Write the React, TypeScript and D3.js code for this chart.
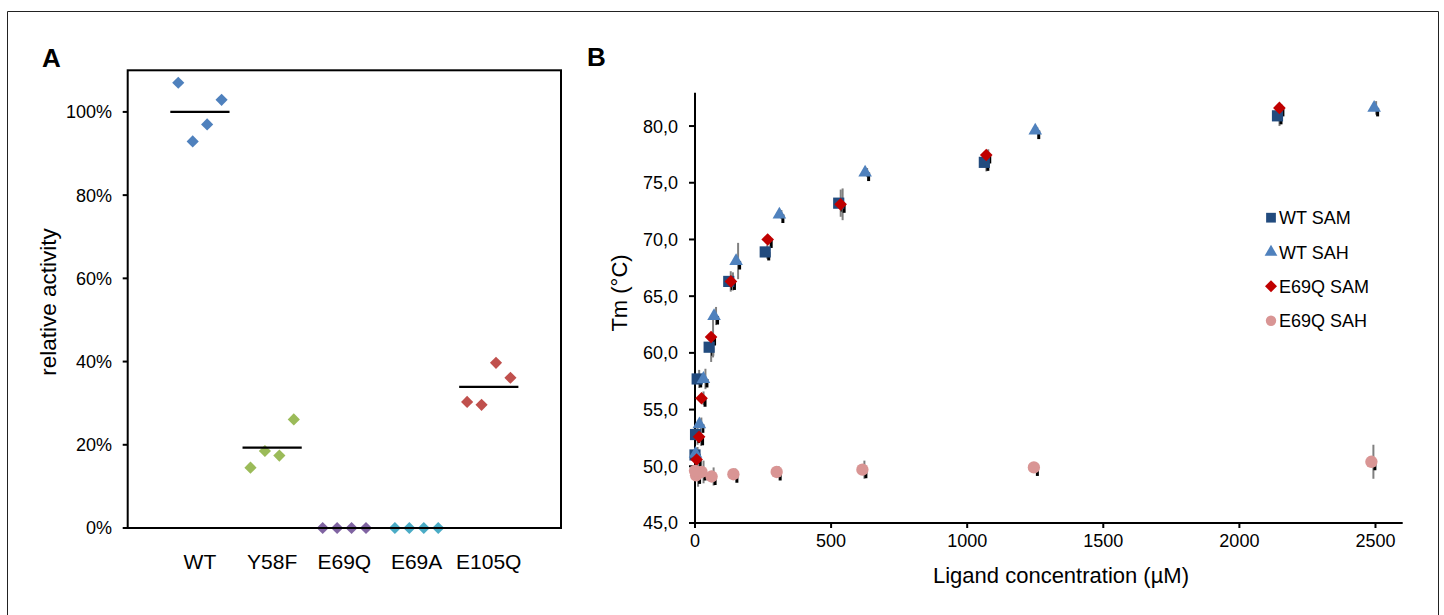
import React from "react";
import * as d3 from "d3";

// ---------- Panel A data ----------
const categories = ["WT", "Y58F", "E69Q", "E69A", "E105Q"];
const colorsA = ["#4f81bd", "#9bbb59", "#8064a2", "#4bacc6", "#c0504d"];
const replicateOffsets = [-0.3, -0.1, 0.1, 0.3];
const activityWT = [1.07, 0.929, 0.97, 1.029];
const activityY58F = [0.145, 0.185, 0.174, 0.261];
const activityE69Q = [0, 0, 0, 0];
const activityE69A = [0, 0, 0, 0];
const activityE105Q = [0.303, 0.296, 0.397, 0.361];
const activityMeans = [1.0, 0.193, 0, 0, 0.339];
const yTicksA = [0, 0.2, 0.4, 0.6, 0.8, 1.0];

// ---------- Panel B data ----------
const wtSamConc = [2140, 1063, 528, 258, 124, 52, 8, 2, 0];
const wtSamTm = [80.9, 76.8, 73.2, 68.9, 66.3, 60.5, 57.7, 52.8, 51.0];
const wtSamSd = [0.9, 0.8, 1.2, 0.6, 0.9, 1.3, 0.8, 0.9, 0.6];

const wtSahConc = [2495, 1250, 625, 310, 151, 70, 31, 16, 2];
const wtSahTm = [81.6, 79.6, 75.9, 72.2, 68.1, 63.25, 57.7, 53.7, 51.1];
const wtSahSd = [0.6, 0.3, 0.4, 0.4, 1.6, 0.8, 0.9, 0.6, 0.6];

const e69qSamConc = [2147, 1070, 535, 267, 132, 59, 24, 15, 6];
const e69qSamTm = [81.6, 77.45, 73.1, 70.0, 66.3, 61.4, 56.0, 52.6, 50.6];
const e69qSamSd = [0.3, 0.5, 1.4, 0.3, 0.8, 1.8, 0.6, 0.8, 0.5];

const e69qSahConc = [2485, 1245, 615, 300, 141, 61, 24, 4, 0];
const e69qSahTm = [50.4, 49.9, 49.7, 49.5, 49.3, 49.1, 49.5, 49.2, 49.6];
const e69qSahSd = [1.5, 0.3, 0.8, 0.5, 0.5, 0.8, 1.0, 1.0, 0.8];

const legendLabels = ["WT SAM", "WT SAH", "E69Q SAM", "E69Q SAH"];
const colorsB = ["#224b7e", "#4f81bd", "#c00000", "#d99594"];
const xTicksB = [0, 500, 1000, 1500, 2000, 2500];
const yTicksB = [45, 50, 55, 60, 65, 70, 75, 80];

const FONT = "'Liberation Sans', Arial, Helvetica, sans-serif";

export default function App() {
  // Panel A scales
  const xA = d3.scaleLinear().domain([0, 6]).range([127.7, 561]);
  const yA = d3.scaleLinear().domain([0, 1.1]).range([528, 70.3]);
  const seriesA = [activityWT, activityY58F, activityE69Q, activityE69A, activityE105Q];
  const diamondA = d3.symbol().type(d3.symbolSquare).size(74)() as string;

  // Panel B scales
  const xB = d3.scaleLinear().domain([0, 2600]).range([695, 1402.7]);
  const yB = d3.scaleLinear().domain([45, 82.94]).range([523, 92.7]);
  const fmtB = (v: number) => d3.format(".1f")(v).replace(".", ",");

  const seriesB = [
    { conc: wtSamConc, tm: wtSamTm, sd: wtSamSd, sym: d3.symbolSquare, size: 125, rot: 0 },
    { conc: wtSahConc, tm: wtSahTm, sd: wtSahSd, sym: d3.symbolTriangle, size: 80, rot: 0 },
    { conc: e69qSamConc, tm: e69qSamTm, sd: e69qSamSd, sym: d3.symbolSquare, size: 80, rot: 45 },
    { conc: e69qSahConc, tm: e69qSahTm, sd: e69qSahSd, sym: d3.symbolCircle, size: 120, rot: 0 },
  ];
  const legendSyms = [
    { sym: d3.symbolSquare, size: 95, rot: 0 },
    { sym: d3.symbolTriangle, size: 70, rot: 0 },
    { sym: d3.symbolSquare, size: 72, rot: 45 },
    { sym: d3.symbolCircle, size: 85, rot: 0 },
  ];
  const legendY = d3.scalePoint().domain(legendLabels).range([217.7, 320.7]);

  return (
    <svg
      width={1444}
      height={615}
      style={{ position: "absolute", left: 0, top: 0, background: "#fff" }}
      fontFamily={FONT}
    >
      <rect x={0} y={0} width={1444} height={615} fill="#fff" />
      {/* outer frame */}
      <path d="M7.5,640 L7.5,11.5 L1438.5,11.5 L1438.5,640" fill="none" stroke="#222" strokeWidth={1} />

      {/* ===== Panel A ===== */}
      <text x={42} y={66.5} fontSize={26} fontWeight="bold" fill="#000">A</text>
      <rect
        x={xA(0)}
        y={yA(1.1)}
        width={xA(6) - xA(0)}
        height={yA(0) - yA(1.1)}
        fill="none"
        stroke="#000"
        strokeWidth={2}
      />
      {yTicksA.map((t) => (
        <g key={"ta" + t}>
          <line x1={xA(0) - 5} x2={xA(0)} y1={yA(t)} y2={yA(t)} stroke="#000" strokeWidth={2} />
          <text x={112} y={yA(t)} dy="0.36em" fontSize={18} textAnchor="end" fill="#000">
            {d3.format(".0%")(t)}
          </text>
        </g>
      ))}
      {categories.map((c, i) => (
        <text key={"cat" + c} x={xA(i + 1)} y={569} fontSize={21} textAnchor="middle" fill="#000">
          {c}
        </text>
      ))}
      <text
        transform={`translate(56,${302}) rotate(-90)`}
        fontSize={22.5}
        textAnchor="middle"
        fill="#000"
      >
        relative activity
      </text>
      {seriesA.map((vals, i) =>
        vals.map((v, j) => (
          <path
            key={`pa${i}-${j}`}
            d={diamondA}
            transform={`translate(${xA(i + 1 + replicateOffsets[j])},${yA(v)}) rotate(45)`}
            fill={colorsA[i]}
          />
        ))
      )}
      {activityMeans.map((m, i) => (
        <line
          key={"mean" + i}
          x1={xA(i + 1 - 0.41)}
          x2={xA(i + 1 + 0.41)}
          y1={yA(m)}
          y2={yA(m)}
          stroke="#000"
          strokeWidth={2.2}
        />
      ))}

      {/* ===== Panel B ===== */}
      <text x={587} y={66} fontSize={26} fontWeight="bold" fill="#000">B</text>
      <line x1={xB(0)} x2={xB(0)} y1={yB(82.94)} y2={yB(45)} stroke="#000" strokeWidth={2} />
      <line x1={xB(0)} x2={xB(2600)} y1={yB(45)} y2={yB(45)} stroke="#000" strokeWidth={2} />
      {yTicksB.map((t) => (
        <g key={"tb" + t}>
          <line x1={xB(0) - 6} x2={xB(0)} y1={yB(t)} y2={yB(t)} stroke="#000" strokeWidth={2} />
          <text x={678} y={yB(t)} dy="0.36em" fontSize={18} textAnchor="end" fill="#000">
            {fmtB(t)}
          </text>
        </g>
      ))}
      {xTicksB.map((t) => (
        <g key={"xb" + t}>
          <line x1={xB(t)} x2={xB(t)} y1={yB(45)} y2={yB(45) + 5} stroke="#000" strokeWidth={2} />
          <text x={xB(t)} y={547} fontSize={18} textAnchor="middle" fill="#000">
            {t}
          </text>
        </g>
      ))}
      <text x={1061} y={583} fontSize={22} textAnchor="middle" fill="#000">
        Ligand concentration (µM)
      </text>
      <text transform={`translate(627,293) rotate(-90)`} fontSize={22} textAnchor="middle" fill="#000">
        Tm (°C)
      </text>

      {/* error bars */}
      {seriesB.map((s, i) =>
        s.conc.map((c, j) => (
          <g key={`eb${i}-${j}`}>
            <line
              x1={xB(c) + 2}
              x2={xB(c) + 2}
              y1={yB(s.tm[j] + s.sd[j])}
              y2={yB(s.tm[j] - s.sd[j])}
              stroke="#808080"
              strokeWidth={2}
            />
            <line
              x1={xB(c) + 3.5}
              x2={xB(c) + 3.5}
              y1={yB(s.tm[j])}
              y2={yB(s.tm[j] - 0.75)}
              stroke="#000"
              strokeWidth={3}
            />
          </g>
        ))
      )}
      {/* markers */}
      {seriesB.map((s, i) =>
        s.conc.map((c, j) => (
          <path
            key={`mb${i}-${j}`}
            d={d3.symbol().type(s.sym).size(s.size)() as string}
            transform={`translate(${xB(c)},${yB(s.tm[j])}) rotate(${s.rot})`}
            fill={colorsB[i]}
          />
        ))
      )}

      {/* legend */}
      {legendLabels.map((l, i) => (
        <g key={"lg" + l} transform={`translate(0,${legendY(l)})`}>
          <path
            d={d3.symbol().type(legendSyms[i].sym).size(legendSyms[i].size)() as string}
            transform={`translate(1271,0) rotate(${legendSyms[i].rot})`}
            fill={colorsB[i]}
          />
          <text x={1279} y={0} dy="0.36em" fontSize={18} fill="#000">
            {l}
          </text>
        </g>
      ))}
    </svg>
  );
}
